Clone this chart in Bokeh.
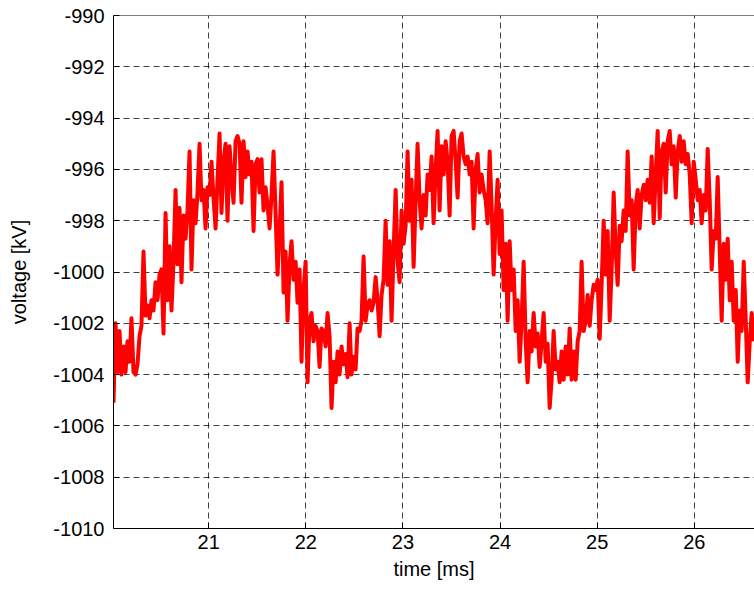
from bokeh.plotting import figure
from bokeh.models import Range1d, FixedTicker, Span, CustomJSTickFormatter
from bokeh.embed import file_html
from bokeh.resources import INLINE

# time axis values [ms]
time_ms = [
    20.020, 20.041, 20.061, 20.082, 20.102, 20.123, 20.144, 20.164, 20.185, 20.205,
    20.226, 20.247, 20.267, 20.288, 20.308, 20.329, 20.350, 20.370, 20.391, 20.411,
    20.432, 20.453, 20.473, 20.494, 20.514, 20.535, 20.556, 20.576, 20.597, 20.617,
    20.638, 20.659, 20.679, 20.700, 20.720, 20.741, 20.762, 20.782, 20.803, 20.823,
    20.844, 20.865, 20.885, 20.906, 20.926, 20.947, 20.968, 20.988, 21.009, 21.029,
    21.050, 21.071, 21.091, 21.112, 21.132, 21.153, 21.174, 21.194, 21.215, 21.235,
    21.256, 21.277, 21.297, 21.318, 21.338, 21.359, 21.380, 21.400, 21.421, 21.441,
    21.462, 21.483, 21.503, 21.524, 21.544, 21.565, 21.586, 21.606, 21.627, 21.647,
    21.668, 21.689, 21.709, 21.730, 21.750, 21.771, 21.792, 21.812, 21.833, 21.853,
    21.874, 21.895, 21.915, 21.936, 21.956, 21.977, 21.998, 22.018, 22.039, 22.059,
    22.080, 22.101, 22.121, 22.142, 22.162, 22.183, 22.204, 22.224, 22.245, 22.265,
    22.286, 22.307, 22.327, 22.348, 22.368, 22.389, 22.410, 22.430, 22.451, 22.471,
    22.492, 22.513, 22.533, 22.554, 22.574, 22.595, 22.616, 22.636, 22.657, 22.677,
    22.698, 22.719, 22.739, 22.760, 22.780, 22.801, 22.822, 22.842, 22.863, 22.883,
    22.904, 22.925, 22.945, 22.966, 22.986, 23.007, 23.028, 23.048, 23.069, 23.089,
    23.110, 23.131, 23.151, 23.172, 23.192, 23.213, 23.234, 23.254, 23.275, 23.295,
    23.316, 23.337, 23.357, 23.378, 23.398, 23.419, 23.440, 23.460, 23.481, 23.501,
    23.522, 23.543, 23.563, 23.584, 23.604, 23.625, 23.646, 23.666, 23.687, 23.707,
    23.728, 23.749, 23.769, 23.790, 23.810, 23.831, 23.852, 23.872, 23.893, 23.913,
    23.934, 23.955, 23.975, 23.996, 24.016, 24.037, 24.058, 24.078, 24.099, 24.119,
    24.140, 24.161, 24.181, 24.202, 24.222, 24.243, 24.264, 24.284, 24.305, 24.325,
    24.346, 24.367, 24.387, 24.408, 24.428, 24.449, 24.470, 24.490, 24.511, 24.531,
    24.552, 24.573, 24.593, 24.614, 24.634, 24.655, 24.676, 24.696, 24.717, 24.737,
    24.758, 24.779, 24.799, 24.820, 24.840, 24.861, 24.882, 24.902, 24.923, 24.943,
    24.964, 24.985, 25.005, 25.026, 25.046, 25.067, 25.088, 25.108, 25.129, 25.149,
    25.170, 25.191, 25.211, 25.232, 25.252, 25.273, 25.294, 25.314, 25.335, 25.355,
    25.376, 25.397, 25.417, 25.438, 25.458, 25.479, 25.500, 25.520, 25.541, 25.561,
    25.582, 25.603, 25.623, 25.644, 25.664, 25.685, 25.706, 25.726, 25.747, 25.767,
    25.788, 25.809, 25.829, 25.850, 25.870, 25.891, 25.912, 25.932, 25.953, 25.973,
    25.994, 26.015, 26.035, 26.056, 26.076, 26.097, 26.118, 26.138, 26.159, 26.179,
    26.200, 26.221, 26.241, 26.262, 26.282, 26.303, 26.324, 26.344, 26.365, 26.385,
    26.406, 26.427, 26.447, 26.468, 26.488, 26.509, 26.530, 26.550, 26.571, 26.591,
    26.612,
]

# voltage values [kV]
voltage_kv = [
    -1005.1, -1002.0, -1003.9, -1002.3, -1004.0, -1002.9, -1003.9, -1002.7, -1003.5, -1001.8,
    -1003.9, -1004.0, -1003.6, -1002.5, -1002.1, -999.2, -1001.7, -1001.3, -1001.8, -1001.1,
    -1001.5, -1000.4, -1001.1, -1000.1, -999.9, -1002.4, -997.7, -1001.1, -999.0, -1001.5,
    -999.6, -996.8, -999.7, -997.5, -1000.4, -997.8, -998.7, -997.6, -995.3, -999.9,
    -997.2, -998.1, -996.9, -995.0, -997.2, -996.8, -998.3, -996.7, -997.0, -995.7,
    -997.1, -998.3, -996.4, -994.6, -997.7, -995.7, -995.0, -998.0, -995.1, -996.3,
    -997.3, -994.9, -994.7, -995.0, -997.3, -994.9, -996.3, -995.3, -996.2, -995.7,
    -998.4, -995.8, -995.6, -996.9, -995.6, -997.6, -996.7, -997.4, -998.3, -997.0,
    -995.3, -997.7, -1000.1, -998.4, -996.5, -1000.8, -999.2, -1001.9, -999.7, -998.8,
    -1000.3, -999.6, -1001.2, -999.9, -1003.5, -1000.7, -999.6, -1004.3, -1001.9, -1001.6,
    -1002.7, -1002.1, -1002.3, -1003.7, -1002.2, -1002.3, -1002.9, -1001.6, -1002.5, -1005.3,
    -1003.5, -1004.3, -1003.1, -1004.0, -1002.9, -1003.6, -1003.2, -1004.1, -1002.0, -1004.0,
    -1003.3, -1003.8, -1002.2, -1002.3, -1001.9, -999.4, -1001.9, -1001.3, -1001.1, -1001.5,
    -1001.2, -1000.2, -1001.1, -1002.5, -1000.9, -1000.3, -998.0, -1000.5, -998.8, -1001.9,
    -999.2, -996.8, -999.6, -1000.4, -997.6, -998.9, -998.2, -995.3, -998.0, -996.4,
    -999.8, -997.2, -995.0, -997.2, -998.3, -997.0, -997.8, -996.2, -996.8, -995.5,
    -998.1, -996.0, -994.5, -997.6, -995.1, -996.2, -994.9, -995.7, -997.8, -994.7,
    -994.5, -995.7, -997.1, -994.9, -994.6, -995.5, -995.8, -995.5, -996.2, -995.7,
    -998.3, -996.0, -995.4, -996.9, -996.2, -996.8, -997.2, -998.1, -995.3, -997.4,
    -1000.1, -998.0, -996.4, -999.3, -997.6, -1000.7, -998.9, -1001.9, -998.8, -1000.7,
    -999.9, -1002.3, -1001.1, -1003.5, -1001.9, -999.6, -1002.7, -1004.3, -1002.3, -1003.1,
    -1001.6, -1002.9, -1002.4, -1003.7, -1002.7, -1001.6, -1003.5, -1002.8, -1005.3, -1004.2,
    -1002.3, -1003.8, -1003.5, -1004.3, -1003.1, -1004.2, -1002.9, -1004.0, -1002.2, -1004.2,
    -1003.1, -1004.2, -1002.7, -1002.3, -999.6, -1002.3, -1001.9, -1000.9, -1002.1, -1001.1,
    -1000.5, -1000.7, -1000.3, -1002.6, -1000.5, -998.0, -1000.1, -998.4, -1001.9, -999.9,
    -996.9, -999.2, -1000.5, -998.2, -998.8, -997.6, -998.4, -995.3, -997.8, -997.2,
    -999.9, -997.4, -996.8, -998.3, -997.0, -996.6, -997.2, -996.4, -997.3, -995.5,
    -998.1, -996.2, -994.5, -997.9, -995.3, -995.0, -996.9, -994.9, -994.5, -995.8,
    -995.1, -997.1, -995.3, -994.7, -995.7, -994.9, -995.8, -995.4, -996.2, -998.1,
    -995.7, -996.4, -997.2, -996.8, -998.1, -997.0, -997.6, -995.2, -997.2, -999.9,
    -998.4, -998.7, -996.3, -999.2, -1001.9, -998.9, -1000.3, -998.7, -1001.1, -999.6,
    -1001.9, -1000.7, -1003.5, -1001.5, -1002.3, -999.6, -1001.9, -1004.3, -1002.7, -1001.6,
    -1002.7,
]

x_ticks = [21, 22, 23, 24, 25, 26]
y_ticks = [-1010, -1008, -1006, -1004, -1002, -1000, -998, -996, -994, -992, -990]

FONT = "Liberation Sans"

p = figure(
    width=754, height=591,
    x_range=Range1d(20.02, 26.62), y_range=Range1d(-1010, -990),
    output_backend="svg", toolbar_location=None,
    min_border_left=113, min_border_right=0, min_border_top=15, min_border_bottom=63,
    x_axis_label="time [ms]", y_axis_label="voltage [kV]",
)
p.background_fill_color = "white"
p.border_fill_color = "white"
p.outline_line_color = None

p.line(time_ms, voltage_kv, line_color="#ff0000", line_width=4, line_join="round")

for ax, ticks in ((p.xaxis[0], x_ticks), (p.yaxis[0], y_ticks)):
    ax.ticker = FixedTicker(ticks=ticks)
    ax.formatter = CustomJSTickFormatter(code="return tick.toString();")
    ax.major_tick_in = 6
    ax.major_tick_out = 0
    ax.minor_tick_in = 0
    ax.minor_tick_out = 0
    ax.axis_line_color = "black"
    ax.major_tick_line_color = "black"
    ax.major_label_text_font = FONT
    ax.major_label_text_font_size = "20px"
    ax.major_label_text_color = "black"
    ax.axis_label_text_font = FONT
    ax.axis_label_text_font_size = "20px"
    ax.axis_label_text_font_style = "normal"
    ax.axis_label_text_color = "black"

p.yaxis[0].major_label_standoff = 9
p.yaxis[0].axis_label_standoff = 20
p.xaxis[0].major_label_standoff = 6
p.xaxis[0].axis_label_standoff = 6

# top frame border
p.add_layout(Span(location=-990, dimension="width", line_color="black", line_width=1))

for g, ticks in ((p.xgrid[0], x_ticks), (p.ygrid[0], y_ticks)):
    g.ticker = FixedTicker(ticks=ticks)
    g.grid_line_color = "#000000"
    g.grid_line_alpha = 0.75
    g.grid_line_width = 1
    g.grid_line_dash = "6 4"

open("out.html", "w").write(file_html(p, INLINE))
